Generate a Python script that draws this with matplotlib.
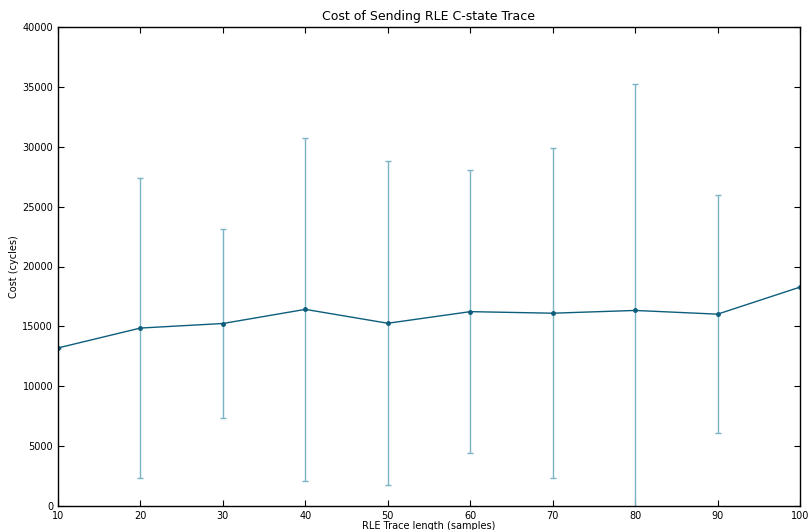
import matplotlib
matplotlib.use("Agg")
import matplotlib.pyplot as plt

trace_len = [10, 20, 30, 40, 50, 60, 70, 80, 90, 100]
cost_mean = [13200, 14860, 15240, 16420, 15260, 16230, 16100, 16330, 16020, 18280]
cost_err = [0, 12520, 7890, 14300, 13520, 11800, 13780, 18900, 9930, 0]

line_color = "#0d5e7c"
err_color = "#7ab4c4"

fig = plt.figure(figsize=(8.09, 5.30), dpi=100)
ax = fig.add_axes([58 / 809, 24 / 530, 742 / 809, 479 / 530])

ax.errorbar(trace_len, cost_mean, yerr=cost_err, fmt="none", ecolor=err_color,
            elinewidth=1, capsize=2.5, capthick=1)
ax.plot(trace_len, cost_mean, color=line_color, marker="o", markersize=2.5, linewidth=1)

ax.set_xlim(10, 100)
ax.set_ylim(0, 40000)
ax.set_xticks(range(10, 101, 10))
ax.set_yticks(range(0, 40001, 5000))
ax.tick_params(direction="in", top=True, right=True, length=4, labelsize=7)
for s in ax.spines.values():
    s.set_linewidth(1)

ax.set_title("Cost of Sending RLE C-state Trace", fontsize=9, pad=5)
ax.set_xlabel("RLE Trace length (samples)", fontsize=7, labelpad=0)
ax.set_ylabel("Cost (cycles)", fontsize=7, labelpad=2)

plt.savefig("out.png", dpi=100)
plt.close()
